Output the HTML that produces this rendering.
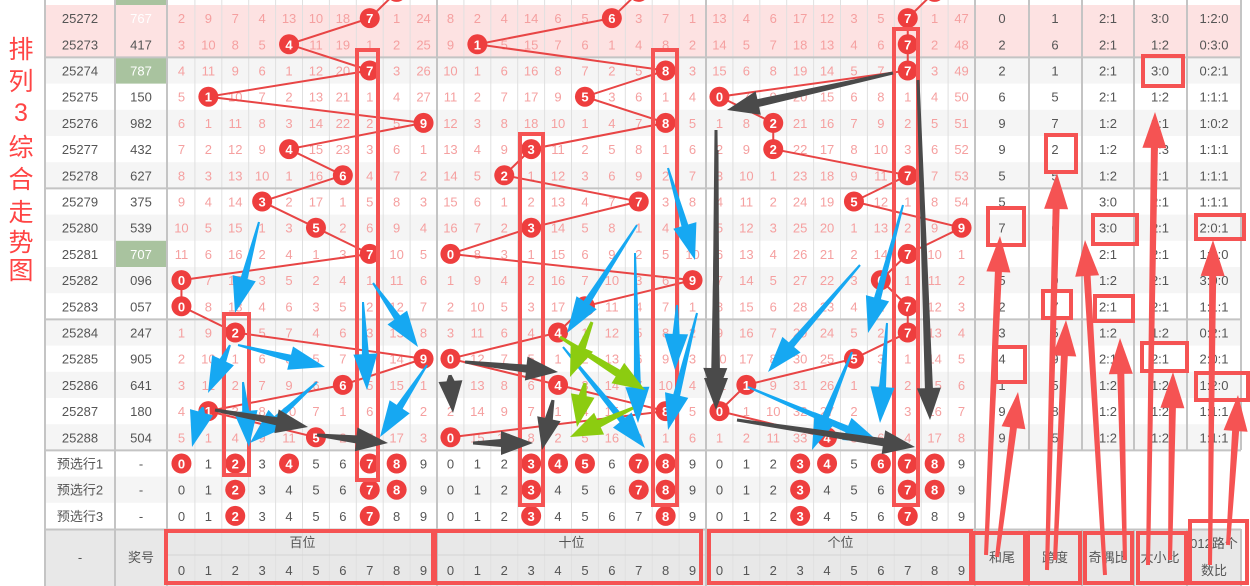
<!DOCTYPE html>
<html><head><meta charset="utf-8">
<style>
html,body{margin:0;padding:0;background:#fff;width:1250px;height:586px;overflow:hidden}
svg{display:block;font-family:"Liberation Sans","Noto Sans CJK SC",sans-serif}
</style></head>
<body>
<svg id="s" width="1250" height="586" viewBox="0 0 1250 586" xmlns="http://www.w3.org/2000/svg"></svg>
<script>
(function(){
const S=document.getElementById('s');let h='';
const draws=["767","417","787","150","982","432","627","375","539","707","096","057","247","905","641","180","504"];
const periods=[];for(let i=0;i<17;i++)periods.push(String(25272+i));
const first=[[2,9,7,4,13,10,18,0,1,24],[8,2,4,14,6,5,0,3,7,1],[13,4,6,17,12,3,5,0,1,47]];
const RH=26.2,T0=5;
const rTop=i=>T0+RH*i, cy=i=>T0+RH*i+RH/2;
const secX=[168,437,706],CW=26.9;
const cx=j=>secX[Math.floor(j/10)]+(j%10)*CW+CW/2;
const statX=[1002,1055,1108,1160,1214];
h+=`<rect x="45" y="-21" width="1196" height="26" fill="#fff"/>`;
h+=`<rect x="115" y="-21" width="52" height="26" fill="#a9c39f"/>`;
for(let i=0;i<20;i++){let bg=i<2?'#fde2e2':(i%2==0?'#f5f5f5':'#fff');
 let w=i>=17?930:1196;h+=`<rect x="45" y="${rTop(i)}" width="${w}" height="${RH+0.5}" fill="${bg}"/>`;}
[2,9].forEach(i=>h+=`<rect x="115" y="${rTop(i)}" width="52" height="${RH}" fill="#a9c39f"/>`);
h+=`<rect x="45" y="529.5" width="1196" height="57" fill="#e8e8e8"/>`;
for(let j=0;j<30;j++){if(j%10==0)continue;let x=secX[Math.floor(j/10)]+(j%10)*CW;h+=`<line x1="${x}" y1="0" x2="${x}" y2="586" stroke="#e0e0e0" stroke-width="1"/>`;}
h+=`<line x1="168" y1="555" x2="975" y2="555" stroke="#d4d4d4"/>`;
[45,115,167,437,706,975].forEach(x=>h+=`<line x1="${x}" y1="0" x2="${x}" y2="586" stroke="#c4c4c4" stroke-width="2"/>`);
[1029,1082,1134,1187,1241].forEach(x=>{h+=`<line x1="${x}" y1="0" x2="${x}" y2="450" stroke="#c4c4c4" stroke-width="2"/><line x1="${x}" y1="529" x2="${x}" y2="586" stroke="#c4c4c4" stroke-width="2"/>`});
[57.4,188.4,319.4,450.4,529.5].forEach(y=>h+=`<line x1="45" y1="${y}" x2="1241" y2="${y}" stroke="#c4c4c4" stroke-width="2"/>`);
"排列3综合走势图".split('').forEach((c,k)=>{const ys=[58,90,121,156,188,221,251,279];h+=`<text x="21" y="${ys[k]}" font-size="25" fill="#f44" text-anchor="middle">${c}</text>`});
let om=first.map(a=>a.slice());
const balls=[[],[],[]];
let tx='',bl='',ln='';
const prev=[8,7,8];
for(let s=0;s<3;s++)balls[s].push([cx(s*10+prev[s]),cy(-1),prev[s]]);
for(let i=0;i<17;i++){
 const d=draws[i].split('').map(Number);
 tx+=`<text x="80" y="${cy(i)+5}" font-size="13" fill="#555" text-anchor="middle">${periods[i]}</text>`;
 const pc=(i==0||i==2||i==9)?'#fff':'#555';
 tx+=`<text x="141" y="${cy(i)+5}" font-size="13" fill="${pc}" text-anchor="middle">${draws[i]}</text>`;
 for(let s=0;s<3;s++){
  for(let k=0;k<10;k++){
   if(i>0){ if(k==d[s])om[s][k]=0; else om[s][k]++; }
   if(k==d[s]){balls[s].push([cx(s*10+k),cy(i),k]);}
   else tx+=`<text x="${cx(s*10+k)}" y="${cy(i)+5}" font-size="13" fill="#f5a0a0" text-anchor="middle">${om[s][k]}</text>`;
  }
 }
 const sum=d[0]+d[1]+d[2],sp=Math.max(...d)-Math.min(...d),odd=d.filter(x=>x%2).length,big=d.filter(x=>x>=5).length;
 const r=[0,0,0];d.forEach(x=>r[x%3]++);
 [sum%10,sp,odd+':'+(3-odd),big+':'+(3-big),r.join(':')].forEach((v,k)=>tx+=`<text x="${statX[k]}" y="${cy(i)+5}" font-size="13" fill="#555" text-anchor="middle">${v}</text>`);
}
for(let s=0;s<3;s++){let p=balls[s];ln+=`<polyline points="${p.map(q=>q[0]+','+q[1]).join(' ')}" fill="none" stroke="#e84545" stroke-width="2"/>`;
 p.forEach(q=>{bl+=`<circle cx="${q[0]}" cy="${q[1]}" r="10" fill="#ee3e3e"/><text x="${q[0]}" y="${q[1]+5}" font-size="13" font-weight="bold" fill="#fff" text-anchor="middle">${q[2]}</text>`});}
const pre=[[[0,2,4,7,8],[3,4,5,7,8],[3,4,6,7,8]],[[2,7,8],[3,7,8],[3,7,8]],[[2,7],[3,8],[3,7]]];
for(let r=0;r<3;r++){const i=17+r;
 tx+=`<text x="80" y="${cy(i)+5}" font-size="13" fill="#555" text-anchor="middle">预选行${r+1}</text><text x="141" y="${cy(i)+5}" font-size="13" fill="#555" text-anchor="middle">-</text>`;
 for(let s=0;s<3;s++)for(let k=0;k<10;k++){const x=cx(s*10+k);
  if(pre[r][s].includes(k))bl+=`<circle cx="${x}" cy="${cy(i)}" r="10" fill="#ee3e3e"/><text x="${x}" y="${cy(i)+5}" font-size="13" font-weight="bold" fill="#fff" text-anchor="middle">${k}</text>`;
  else tx+=`<text x="${x}" y="${cy(i)+5}" font-size="13" fill="#555" text-anchor="middle">${k}</text>`;}
}
tx+=`<text x="80" y="562" font-size="13" fill="#555" text-anchor="middle">-</text><text x="141" y="562" font-size="13" fill="#555" text-anchor="middle">奖号</text>`;
["百位","十位","个位"].forEach((t,s)=>{tx+=`<text x="${secX[s]+134.5}" y="547" font-size="13" fill="#555" text-anchor="middle">${t}</text>`;for(let k=0;k<10;k++)tx+=`<text x="${cx(s*10+k)}" y="575" font-size="13" fill="#555" text-anchor="middle">${k}</text>`;});
["和尾","跨度","奇偶比","大小比"].forEach((t,k)=>tx+=`<text x="${statX[k]}" y="562" font-size="13" fill="#555" text-anchor="middle">${t}</text>`);
tx+=`<text x="1214" y="548" font-size="13" fill="#555" text-anchor="middle">012路个</text><text x="1214" y="575" font-size="13" fill="#555" text-anchor="middle">数比</text>`;
h+=tx+ln+bl;
const RR=[[357,50,21,430],[224,314,25,161],[520,134,23,371],[653,50,24,455],[894,29,24,476],
[166,531,267,52],[435,531,266,52],[709,531,262,52],[973,533,52,50],[1028,533,52,50],[1085,533,47,50],[1138,533,48,50],[1190,521,57,62],
[1143,56,40,30],[1046,135,30,37],[988,208,36,37],[1093,215,44,29],[1196,215,48,24],[1043,291,28,27],[1095,296,38,25],[996,347,29,35],[1142,343,45,28],[1196,373,52,27]];
RR.forEach(r=>h+=`<rect x="${r[0]}" y="${r[1]}" width="${r[2]}" height="${r[3]}" fill="none" stroke="#f55353" stroke-width="4"/>`);
function arrow(x1,y1,x2,y2,c,w0,w1,hw,hl){const dx=x2-x1,dy=y2-y1,L=Math.hypot(dx,dy),ux=dx/L,uy=dy/L,nx=-uy,ny=ux;
 const bx=x2-ux*hl,by=y2-uy*hl;const P=[[x1+nx*w0/2,y1+ny*w0/2],[bx+nx*w1/2,by+ny*w1/2],[bx+nx*hw,by+ny*hw],[x2,y2],[bx-nx*hw,by-ny*hw],[bx-nx*w1/2,by-ny*w1/2],[x1-nx*w0/2,y1-ny*w0/2]];
 return `<polygon points="${P.map(p=>p[0].toFixed(1)+','+p[1].toFixed(1)).join(' ')}" fill="${c}"/>`;}
const cB='#16a8f2',cG='#4a4a4a',cGr='#8ccc10',cR='#f55353';
[[259,222,235,313],[230,345,208,393],[238,345,325,367],[203,407,192,447],[243,382,249,447],[317,382,250,443],[373,283,418,347],[363,302,367,390],[427,365,380,437],
[668,168,695,260],[637,225,567,333],[635,253,638,423],[563,347,645,448],[697,313,668,430],[677,305,675,370],
[903,205,868,333],[860,265,768,372],[887,323,880,423],[852,352,812,450],[748,387,880,443]].forEach(a=>h+=arrow(a[0],a[1],a[2],a[3],cB,2,7,12,36));
[[560,337,645,390],[592,322,570,377],[585,383,577,427],[633,408,570,437]].forEach(a=>h+=arrow(a[0],a[1],a[2],a[3],cGr,3,8,12,32));
[[215,410,308,427],[317,435,388,443],[450,375,453,413],[465,362,558,372],[473,443,533,443],[553,400,542,450],[717,150,715,400],[893,73,727,110],[716,130,716,410],[737,420,915,447],[918,80,930,420]].forEach(a=>h+=arrow(a[0],a[1],a[2],a[3],cG,3,8,12,32));
[[986,555,1000,236],[997,557,1018,392],[1047,570,1057,173],[1055,560,1066,320],[1105,575,1085,240],[1125,560,1120,338],[1148,565,1155,112],[1170,560,1173,372],[1210,565,1213,240],[1228,545,1238,395]].forEach(a=>h+=arrow(a[0],a[1],a[2],a[3],cR,4,7,12,36));
S.innerHTML=h;
})();
</script>
</body></html>
